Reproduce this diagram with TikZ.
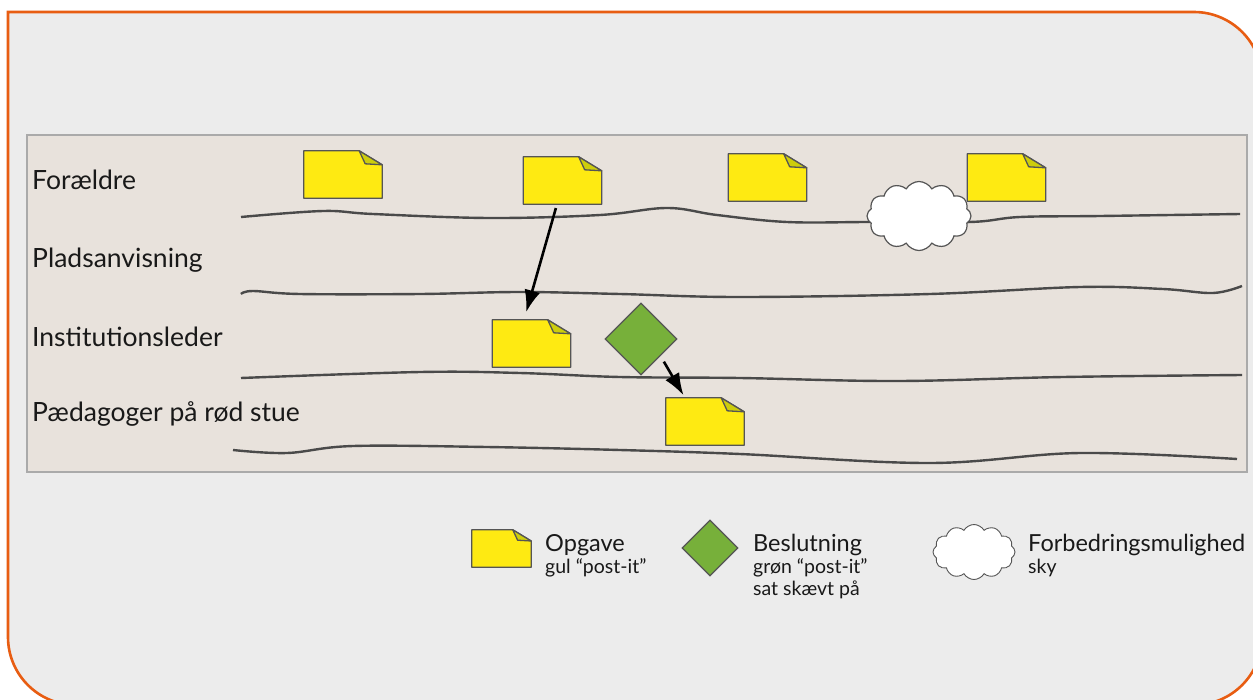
\documentclass[tikz,border=0pt]{standalone}
\usepackage{fontspec}
\setmainfont{Lato}
\usetikzlibrary{shapes.geometric,shapes.symbols,arrows.meta,positioning}

\definecolor{frameorange}{RGB}{232,93,18}
\definecolor{framegray}{RGB}{236,236,236}
\definecolor{boardfill}{RGB}{232,226,220}
\definecolor{boardline}{RGB}{170,170,170}
\definecolor{lanegray}{RGB}{74,74,74}
\definecolor{noteyellow}{RGB}{254,234,18}
\definecolor{notefold}{RGB}{205,205,12}
\definecolor{decgreen}{RGB}{119,176,58}
\definecolor{outlinegray}{RGB}{85,85,85}

\newcommand\foldW{23pt}
\newcommand\foldH{14pt}
\newcommand\postit[4][note]{%
  \node[#1] (#2) at (#3) {};
  \filldraw[noteline, fill=noteyellow] (#2.south west) -- (#2.north west)
    -- ([xshift=-#4*\foldW]#2.north east) -- ([yshift=-#4*\foldH]#2.north east)
    -- (#2.south east) -- cycle;
  \filldraw[noteline, fill=notefold] ([xshift=-#4*\foldW]#2.north east)
    -- ([xshift=-#4*17pt, yshift=-#4*13pt]#2.north east)
    -- ([yshift=-#4*\foldH]#2.north east) -- cycle;
}

\begin{document}
\begin{tikzpicture}[x=1pt, y=-1pt,
    note/.style={rectangle, inner sep=0pt, minimum width=78pt, minimum height=47pt},
    smallnote/.style={rectangle, inner sep=0pt, minimum width=59pt, minimum height=37pt},
    noteline/.style={draw=outlinegray, line width=1.3pt, line join=round},
    decision/.style={diamond, draw=outlinegray, line width=1.3pt, fill=decgreen, inner sep=0pt, minimum size=72pt},
    sky/.style={cloud, cloud puffs=12, cloud puff arc=120, draw=outlinegray, line width=1.2pt, fill=white, inner sep=0pt},
    lane/.style={draw=lanegray, line width=2.4pt},
    flow/.style={line width=2.6pt, -{Latex[length=22pt,width=16pt]}},
    lanelabel/.style={anchor=base west, inner sep=0pt, text=black!90, font=\fontsize{26.5}{30}\selectfont},
    legtitle/.style={anchor=base west, inner sep=0pt, text=black!90, font=\fontsize{23.5}{27}\selectfont},
    legtext/.style={anchor=base west, inner sep=0pt, text=black!90, font=\fontsize{19.5}{22}\selectfont}]

  \useasboundingbox (0,0) rectangle (1253,699);
  \clip (0,0) rectangle (1253,699);
  \fill[white] (0,0) rectangle (1253,699);

  \filldraw[draw=frameorange, fill=framegray, line width=2.6pt]
    (8,12) -- (1194,12) arc[start angle=90, end angle=0, radius=68pt]
    -- (1262,637) arc[start angle=0, end angle=-90, radius=68pt]
    -- (76,705) arc[start angle=270, end angle=180, radius=68pt] -- cycle;

  \filldraw[draw=boardline, fill=boardfill, line width=2.6pt] (27,135) rectangle (1247,472);

  \node[lanelabel] (parents) at (32,189) {Forældre};
  \node[lanelabel] (placement) at (32,267) {Pladsanvisning};
  \node[lanelabel] (manager) at (32,346) {Institutionsleder};
  \node[lanelabel] (staff) at (32,421) {Pædagoger på rød stue};

  \draw[lane] plot[smooth, tension=0.6] coordinates {(241,217) (323,211) (373,214) (490,218) (600,215) (667,208) (717,215) (787,222) (870,222) (970,222) (1020,217) (1100,216) (1240,214)};
  \draw[lane] plot[smooth, tension=0.6] coordinates {(241,294) (253,291) (300,294) (420,294) (520,292) (620,294) (740,297) (930,294) (1080,287) (1163,289) (1213,293) (1242,286)};
  \draw[lane] plot[smooth, tension=0.6] coordinates {(241,378) (420,372) (520,373) (620,377) (740,378) (897,381) (1063,377) (1242,375)};
  \draw[lane] plot[smooth, tension=0.6] coordinates {(233,450) (287,453) (353,446) (487,447) (620,450) (740,454) (930,463) (1080,453) (1237,459)};

  \node[sky, minimum width=104pt, minimum height=69pt] (idea) at (919,216) {};

  \postit{taskA}{343,174.5}{1}
  \postit{taskB}{562.5,180.5}{1}
  \postit{taskC}{767.5,177.5}{1}
  \postit{taskD}{1006.5,177.5}{1}
  \postit{taskE}{531.5,343.5}{1}
  \postit{taskF}{705,421.5}{1}
  \node[decision] (choice) at (641,339) {};

  \draw[flow, shorten <=4pt, shorten >=8pt] ([xshift=-5.5pt]taskB.south) -- ([xshift=-7.5pt]taskE.north);
  \draw[flow, shorten <=5pt, shorten >=3pt] ([xshift=2pt]choice.south east) -- ([xshift=-20pt]taskF.north);

  \postit[smallnote]{legnote}{501.5,548.5}{0.8}
  \node[legtitle] (legnotetitle) at (545,551) {Opgave};
  \node[legtext] (legnotetext) at (545,573) {gul “post-it”};

  \node[decision, minimum size=56pt] (legchoice) at (710,548) {};
  \node[legtitle] (legchoicetitle) at (753,551) {Beslutning};
  \node[legtext] (legchoicetext) at (753,573) {grøn “post-it”};
  \node[legtext] (legchoicemore) at (753,595) {sat skævt på};

  \node[sky, minimum width=82pt, minimum height=55pt, line width=0.9pt] (legsky) at (974,552) {};
  \node[legtitle] (legskytitle) at (1028,551) {Forbedringsmulighed};
  \node[legtext] (legskytext) at (1028,573) {sky};

\end{tikzpicture}
\end{document}
